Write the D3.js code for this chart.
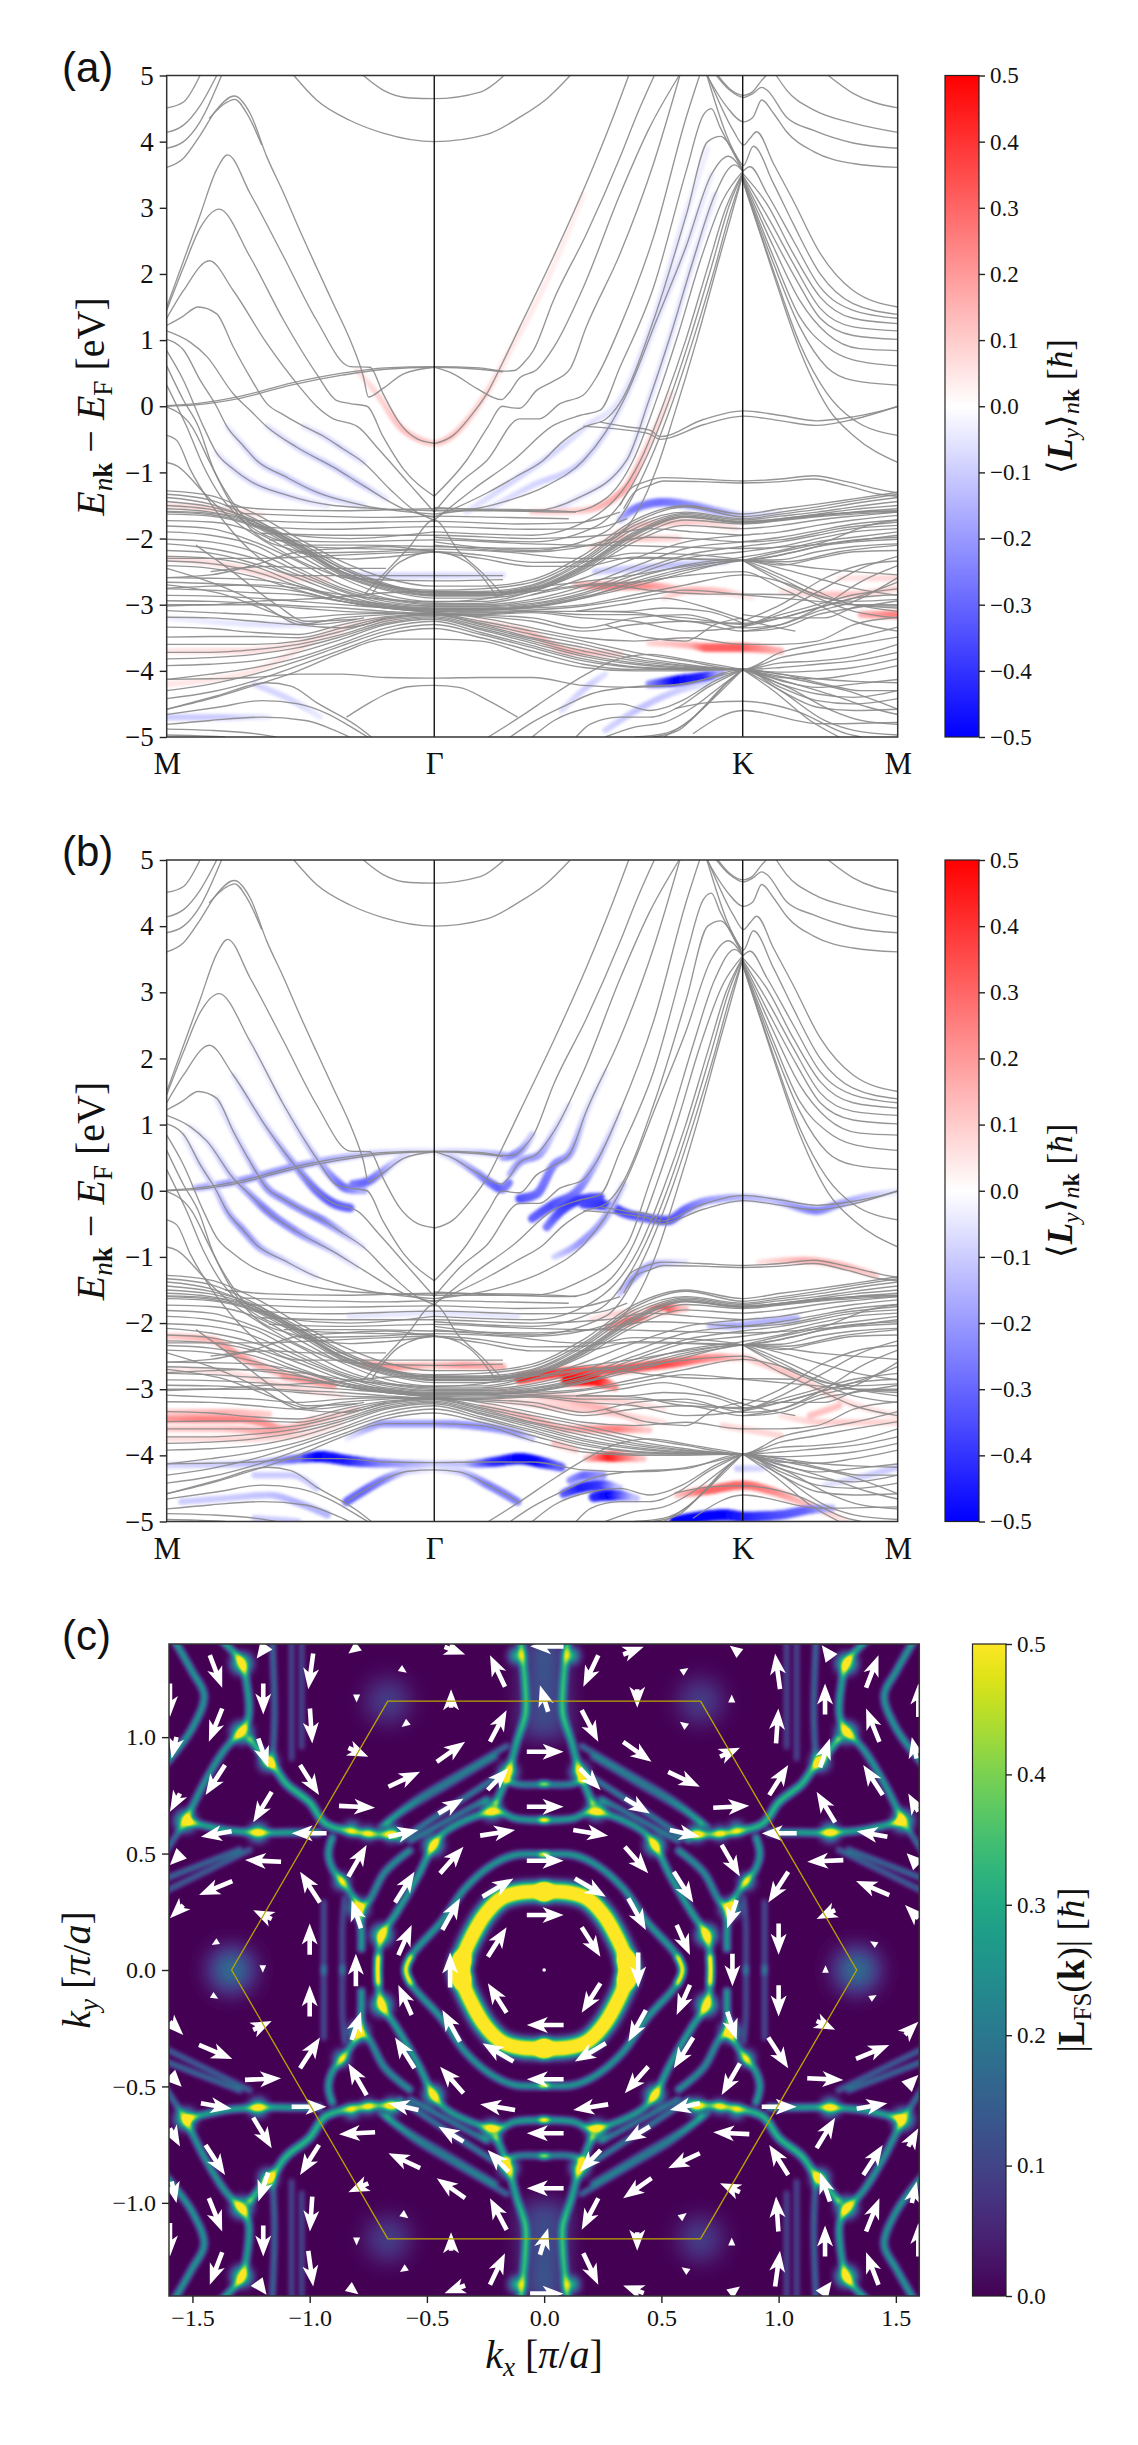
<!DOCTYPE html>
<html>
<head>
<meta charset="utf-8">
<script src="https://cdn.jsdelivr.net/npm/d3@7"></script>
<style>
  body { margin: 0; background: #fff; }
  text { font-family: "Liberation Serif", serif; fill: #111; }
</style>
</head>
<body>
<svg id="fig" width="1138" height="2445"></svg>
<script>
// k runs along the path as a percentage: M=0, Gamma=36.6, K=78.8, M=100
const pathTicks = [0, 36.6, 78.8, 100];
const pathLabels = ["M", "Γ", "K", "M"];
const energyTicks = [-5, -4, -3, -2, -1, 0, 1, 2, 3, 4, 5];
const colorTicks = [-0.5, -0.4, -0.3, -0.2, -0.1, 0, 0.1, 0.2, 0.3, 0.4, 0.5];
const kxTicks = [-1.5, -1, -0.5, 0, 0.5, 1, 1.5];
const kyTicks = [-1, -0.5, 0, 0.5, 1];
const magTicks = [0, 0.1, 0.2, 0.3, 0.4, 0.5];

// bands above the dense manifold, [k, E] pairs
const upperBands = [
  [[26.9,5],[29.6,4.78],[33.3,4.66],[36.6,4.65],[42.9,4.75],[46.05,4.99]],
  [[17.4,5],[20.5,4.63],[25.1,4.32],[29.6,4.13],[36.6,4],[43.8,4.11],[48.3,4.37],[52,4.65],[55.2,5]],
  [[0,4.51],[2.3,4.6],[4.56,5]],
  [[0,4.14],[2.3,4.25],[4.6,4.55],[6.84,5]],
  [[0,3.9],[2.3,4],[4.56,4.3],[7.5,5]],
  [[0,3.61],[2.3,3.75],[4.6,4.1],[6.8,4.48],[9.26,4.69],[11.4,4.43],[13.7,3.77],[16,3.22],[18.2,2.66],[20.5,2.1],[22.8,1.55],[25.1,1],[26.9,.45],[27.6,.14],[29.6,.27],[32.4,.49],[36.6,.59]],
  [[5.8,4.35],[8,4.58],[9.3,4.64],[11,4.42],[13,3.95]],
  [[0,1.5],[2.3,2.2],[4.6,2.9],[6.8,3.57],[8.34,3.8],[11.4,3.22],[16,2.26],[20.5,1.3],[25.1,.6],[27.8,.59],[29.6,.19],[31.9,-.26],[34.2,-.49],[36.6,-.56]],
  [[0,1.45],[2.3,2.1],[4.6,2.7],[7.16,2.98],[11.4,2.26],[16,1.3],[20.5,.49],[23.2,.09],[25.1,.04],[27.4,0],[29.6,-.46],[32.4,-.95],[36.6,-1.36]],
  [[0,1.33],[2.3,1.75],[5.84,2.2],[9.1,1.75],[13.7,.95],[18.2,.29],[20.5,0],[22.8,-.19],[25.1,-.26],[26,-.3],[29,-.65],[33,-1.15],[36.6,-1.6]],
  [[0,1.22],[2.1,1.35],[4.3,1.5],[6.8,1.4],[9.1,.9],[11.4,.44],[13.7,.04],[16,-.13],[18.7,-.3],[21.4,-.45],[24.2,-.65],[26.9,-.85],[30.5,-1.25],[34.2,-1.6],[36.6,-1.72]],
  [[0,1.14],[3.2,.97],[5.5,.75],[9.1,.19],[11.4,-.06],[13.7,-.31],[17.8,-.62],[22.8,-.92],[26.9,-1.2],[32.4,-1.55],[36.6,-1.68]],
  [[0,1.01],[2.3,.85],[4.6,.39],[6.8,0],[8.2,-.3],[10.5,-.6],[12.3,-.82],[16,-1.05],[20.5,-1.3],[26.9,-1.5],[36.6,-1.63]],
  [[0,.84],[2.3,.39],[5,-.3],[6.8,-.7],[9.1,-.95],[11.4,-1.13],[16,-1.33],[22.8,-1.5],[36.6,-1.58]],
  [[0,.61],[2.3,.09],[4.3,-.3],[6.4,-.95],[8.7,-1.4],[11.4,-1.76],[16,-1.93],[25,-2],[36.6,-1.9]],
  [[0,.32],[2.7,-.3],[5,-.9],[7.3,-1.35],[9.6,-1.65],[13.7,-1.96],[20.5,-2.13],[29.6,-2.16],[36.6,-2.18]],
  [[0,-.01],[3.4,-.3],[5.9,-.85],[8.7,-1.45],[11.9,-1.9],[16.9,-2.16],[25,-2.31],[30,-2.28],[36.6,-2.2]],
  [[0,-.44],[1.4,-.52],[3.2,-.95],[5.9,-1.45],[8.7,-1.86],[12.3,-2.26],[18.2,-2.56],[25,-2.56],[36.6,-2.56],[46,-2.56]],
  [[0,-.85],[1.4,-.9],[4.6,-1.25],[6.8,-1.5],[9.6,-1.76],[13.7,-2.06],[19.6,-2.41],[25,-2.6],[36.6,-2.64],[46,-2.62]],
  // flat band from M through Gamma, doubled
  [[0,.01],[4,.04],[10,.15],[17,.35],[24,.5],[29.9,.58],[36.6,.6],[42.8,.58],[46.2,.53],[47.6,.54],[48.8,.65],[50.2,.85],[52.9,1.6],[57.4,2.6],[62,3.76],[64.3,4.4],[66.7,5]],
  [[0,0],[4,.02],[10,.12],[17,.32],[24,.47],[29.9,.56],[36.6,.59],[42.8,.56],[46,.52]],
  // steep bands climbing to K
  [[36.6,-.565],[39.2,-.44],[41.5,-.16],[43.8,.19],[46,.67],[48.3,1.2],[52.9,2.26],[57.4,3.37],[61.1,4.38],[63.2,5]],
  [[36.6,.59],[39.2,.49],[42.4,.27],[45.8,.1],[46.8,.2],[48.3,.43],[50.6,.55],[53,.9],[57,1.8],[62,3.2],[66,4.2],[70.1,5]],
  [[36.6,-1.36],[41,-.82],[44,-.3],[45.9,0],[47,-.02],[48.3,-.03],[50.6,.24],[52.9,.38],[55.2,.57],[57.4,1.2],[62,2.3],[66.6,3.67],[70.2,5]],
  [[36.6,-1.6],[40.2,-1.15],[43.8,-.82],[48.3,-.19],[51,-.19],[53.8,.04],[57,.17],[58.8,.44],[62,1.2],[66.6,2.56],[71.1,4.38],[72.9,5]],
  [[36.6,-1.72],[42,-1.25],[47.4,-.82],[52.9,-.29],[56.5,-.14],[59.3,-.06],[62,.59],[66.6,1.8],[71.1,3.57],[73.4,4.4],[74.5,4.5],[75.7,4.22],[78.8,3.57]],
  [[36.6,-1.68],[44,-1.3],[48,-1.05],[51.5,-.82],[54,-.55],[57.4,-.3],[60,-.2],[62,.05],[66.6,1.3],[71.1,2.9],[74,4],[75.8,4.08],[77,3.95],[78.8,3.57]],
  [[36.6,-1.63],[46,-1.45],[52,-1.2],[57,-.82],[60,-.4],[63,.2],[67,1.3],[71,2.4],[74.5,3.5],[76.8,3.78],[78.8,3.55]],
  [[36.6,-1.58],[50,-1.58],[56,-1.4],[62.9,-.82],[66,.1],[69,1.1],[72,2.2],[75,3.2],[77.7,3.65],[78.8,3.55]],
  [[36.6,-1.53],[55,-1.6],[60,-1.4],[63.8,-.82],[67,.1],[70,1.1],[73,2.2],[76,3.1],[78.8,3.55]],
  [[36.6,-1.9],[50,-1.95],[58,-1.7],[64.8,-.82],[68,.05],[71,1],[74,2.1],[76.5,3],[78.8,3.53]],
  [[36.6,-1.98],[50,-2.05],[59,-1.8],[65.4,-.82],[68.6,.05],[71.5,1],[74.5,2.1],[77,3.05],[78.8,3.52]],
  [[36.6,-2.05],[50,-2.18],[60,-1.9],[66.1,-.82],[69,0],[72,1],[75,2.1],[77,2.9],[78.8,3.5]],
  [[36.6,-2.1],[50,-2.2],[61,-2],[67,-.95],[69.5,-.1],[72.5,1],[75.5,2.2],[78.8,3.5]],
  // around K and down to the second M
  [[75.2,5],[77,4.78],[78.9,4.67],[80.2,4.73],[81.4,4.82],[82.1,4.78],[84.8,4.37],[88.5,4.17],[93.9,3.98],[100,3.9]],
  [[75.4,5],[77,4.8],[78.9,4.7],[80.2,4.76],[81.2,4.9],[82,5]],
  [[73.9,5],[76.6,4.53],[78.9,4.3],[80.2,4.37],[81.4,4.63],[83,4.43],[84.8,4.15],[88.5,3.85],[93.9,3.67],[100,3.61]],
  [[74,5],[77.5,4.17],[78.9,3.95],[79.8,4.05],[80.7,4.15],[83,3.67],[85.7,3.11],[89.4,2.31],[93.9,1.75],[100,1.5]],
  [[73.9,5],[78,3.77],[78.9,3.64],[80.25,3.93],[83,3.37],[85.7,2.76],[89.4,2],[93.9,1.55],[100,1.39]],
  [[78.8,3.55],[79.8,3.62],[82.1,3.22],[85.7,2.51],[89.4,1.8],[93.9,1.45],[100,1.33]],
  [[78.8,3.52],[82.1,3.06],[85.7,2.31],[89.4,1.65],[93.9,1.33],[100,1.25]],
  [[78.8,3.49],[82.5,2.81],[85.7,2.16],[89.4,1.48],[93.9,1.2],[100,1.14]],
  [[78.8,3.47],[82.5,2.66],[86.2,1.9],[89.4,1.33],[93.9,1.07],[100,1.01]],
  [[78.8,3.45],[83,2.41],[86.6,1.6],[90.3,1.1],[94.8,.87],[100,.84]],
  [[78.8,3.44],[83,2.26],[86.6,1.35],[90.3,.9],[93.9,.7],[100,.61]],
  [[78.8,3.43],[83,2.16],[86.6,1.2],[90.3,.59],[93.9,.39],[100,.32]],
  [[78.8,3.42],[83,2.05],[86.6,.95],[90.3,.2],[93.9,-.2],[100,-.44]],
  [[78.8,3.41],[83,2],[86.6,.85],[90.6,-.05],[94,-.45],[100,-.85]],
  [[90.5,5],[93.9,4.73],[100,4.51]],
  [[83.4,5],[84.8,4.78],[88.5,4.48],[93.9,4.28],[100,4.14]],
  // shallow doublets between K and M
  [[59.3,-.24],[62.9,-.31],[66.1,-.36],[67.5,-.46],[73.4,-.2],[78.9,-.07],[84,-.14],[88.9,-.22],[93.9,-.16],[100,-.01]],
  [[57,-.3],[62.9,-.36],[66.1,-.42],[67.5,-.5],[73.4,-.28],[78.9,-.15],[84,-.22],[88.9,-.29],[93.9,-.2],[100,0]],
  [[62,-1.5],[63.4,-1.25],[65.5,-1.14],[67.9,-1.08],[73,-1.1],[78.8,-1.13],[84,-1.1],[88.5,-1.05],[93,-1.14],[97.6,-1.26],[100,-1.31]],
  [[62.5,-1.55],[64,-1.3],[66,-1.2],[68,-1.13],[73,-1.14],[78.8,-1.16],[84,-1.14],[88.5,-1.1],[93,-1.2],[97.6,-1.33],[100,-1.36]],
  // bands at the bottom of the window
  [[24.6,-4.7],[27.5,-4.5],[30,-4.35],[33,-4.24],[36.6,-4.22],[40,-4.25],[44,-4.45],[48,-4.7]],
  [[0,-4.58],[6.8,-4.38],[13.7,-4.18],[17,-4.23],[20.5,-4.48],[26,-4.83],[28,-5]],
  [[0,-4.66],[7,-4.55],[13,-4.45],[18,-4.5],[22,-4.65],[26,-4.9],[27.5,-5]],
  [[0,-4.81],[6,-4.75],[13,-4.7],[19,-4.75],[23,-4.9],[25,-5]],
  [[0,-4.88],[6,-4.9],[12,-4.95],[15,-5]],
  [[0,-4.97],[4,-4.98],[8,-5]],
  [[44,-5],[48.3,-4.7],[53,-4.35],[57.4,-4.05],[61,-3.85],[66,-3.75],[72,-3.85],[78.8,-3.98]],
  [[47,-5],[50,-4.78],[55,-4.5],[58,-4.35],[63,-4.25],[70,-4.2],[78.8,-3.98]],
  [[50,-5],[53,-4.75],[58,-4.55],[62,-4.5],[66,-4.6],[70.5,-4.45],[75,-4.15],[78.8,-3.98]],
  [[56,-5],[58,-4.8],[62,-4.7],[66,-4.7],[70,-4.55],[74,-4.25],[78.8,-3.98]],
  [[60,-5],[64,-4.85],[68,-4.78],[72,-4.55],[75,-4.3],[78.8,-3.98]],
  [[64,-5],[68,-4.95],[71,-4.8],[74,-4.5],[76.5,-4.2],[78.8,-3.98]],
  [[66.5,-5],[70,-4.9],[73,-4.6],[75.5,-4.3],[78.8,-3.98]],
  [[68,-5],[71.5,-4.75],[74.5,-4.45],[78.8,-3.98]],
  [[69.5,-4.57],[74,-4.48],[78.9,-4.46],[86.4,-4.62],[93,-4.95],[95,-5]],
  [[72,-4.95],[78.9,-4.6],[89.4,-4.8],[100,-4.78]],
  [[78.8,-3.98],[84,-4.3],[90,-4.75],[94,-4.9],[100,-4.97]],
  [[78.8,-3.98],[83,-4.3],[88,-4.75],[92,-5]],
  [[78.8,-3.98],[85,-4.25],[91,-4.6],[95,-4.75],[100,-4.81]],
  [[78.8,-3.98],[86,-4.2],[92,-4.4],[96,-4.55],[100,-4.66]],
  [[78.8,-3.98],[87,-4.15],[93,-4.3],[100,-4.58]],
  [[78.8,-3.98],[84,-4.05],[90,-4.2],[95,-4.3],[100,-4.3]],
  // the X and the arch just under Gamma
  [[27,-2.85],[30,-2.5],[33,-2.15],[36.6,-1.72],[40,-2.2],[43,-2.5],[46,-2.85]],
  [[28,-2.85],[32,-2.35],[36.6,-2.2],[41,-2.35],[45,-2.85]],
  // flat lines either side of Gamma
  [[8,-1.5],[14,-1.56],[24,-1.58],[36.6,-1.55],[48,-1.56],[56,-1.6]],
  [[10,-1.62],[20,-1.66],[30,-1.68],[36.6,-1.66],[46,-1.68],[55,-1.7]],
  [[11,-1.72],[22,-1.76],[36.6,-1.74],[48,-1.78],[56,-1.76],[62,-1.6]],
  [[12,-1.82],[22,-1.86],[36.6,-1.82],[50,-1.86],[58,-1.85],[63,-1.7]],
  [[13,-1.92],[24,-1.95],[36.6,-1.95],[50,-2],[60,-1.95],[66,-1.85],[72,-1.9],[78.8,-1.95]],
  [[14,-2.02],[24,-2.05],[36.6,-2.02],[50,-2.08],[58,-2.1],[66,-1.98],[72,-2],[78.8,-2.05],[84,-2.02],[92,-1.85],[100,-1.75]],
  [[16,-2.1],[26,-2.1],[36.6,-2.12],[50,-2.15],[60,-2.1],[68,-2.12],[78.8,-2.15],[88,-2.1],[100,-1.95]],
  [[18,-2.22],[28,-2.2],[36.6,-2.16],[46,-2.2],[56,-2.3],[66,-2.3],[78.8,-2.33],[86,-2.2],[92,-2.05],[100,-1.98]],
  [[6,-2.5],[14,-2.42],[20,-2.45],[30,-2.45]],
  // crossings between K and the second M
  [[78.8,-2.33],[84,-2.2],[90,-2.05],[96,-1.8],[100,-1.72]],
  [[78.8,-2.33],[85,-2.35],[92,-2.2],[100,-2.1]],
  [[78.8,-2.33],[84,-2.6],[90,-2.9],[94,-2.95],[100,-2.92]],
  [[78.8,-2.33],[84,-2.65],[88,-2.85],[94,-3.1],[100,-3.2]],
  [[78.8,-3.34],[84,-3.1],[90,-2.75],[95,-2.45],[100,-2.27]],
  [[78.8,-3.25],[84,-3],[90,-2.6],[95,-2.4],[100,-2.34]],
  [[78.8,-3.4],[84,-3.3],[90,-3],[95,-2.65],[100,-2.41]],
  [[78.8,-3.15],[84,-3.2],[90,-3.2],[95,-3.02],[100,-3.02]],
  // crossings near the first M
  [[0,-2.7],[8,-2.85],[14,-3.1],[20,-3.3],[27,-3.2]],
  [[0,-2.45],[7,-2.7],[13,-3],[18,-3.3],[24,-3.35],[30,-3.2]],
  [[4,-2.1],[9,-2.5],[15,-3],[19,-3.25],[26,-3.22]],
  // humps left of K
  [[56,-3.1],[62,-3],[68,-2.9],[74,-3.05],[78.8,-3.22],[86,-3.4]],
  [[56,-3.1],[63,-3.1],[68,-3.05],[74,-3.1],[78.8,-3.28]],
  [[60,-3.3],[66,-3.5],[71,-3.55],[75,-3.3],[78.8,-3.2]],
  [[50,-2.85],[60,-2.7],[66,-2.78],[74,-2.84],[78.8,-2.84],[86,-2.85]]
];

// dense manifold, energies sampled at kGrid
const kGrid = [0, 6, 12, 18, 24, 30, 36.6, 43, 50, 57, 64, 71, 78.8, 84, 89, 94, 100];
const denseBands = [
  [-1.28,-1.35,-1.62,-2,-2.35,-2.6,-2.72,-2.72,-2.62,-2.25,-1.72,-1.5,-1.63,-1.55,-1.48,-1.4,-1.3],
  [-1.33,-1.42,-1.7,-2.1,-2.45,-2.7,-2.78,-2.76,-2.66,-2.3,-1.76,-1.52,-1.67,-1.6,-1.52,-1.43,-1.33],
  [-1.38,-1.48,-1.75,-2.15,-2.5,-2.72,-2.8,-2.8,-2.7,-2.33,-1.8,-1.6,-1.7,-1.63,-1.56,-1.47,-1.38],
  [-1.44,-1.52,-1.72,-2.05,-2.42,-2.68,-2.82,-2.82,-2.72,-2.36,-1.85,-1.62,-1.72,-1.66,-1.6,-1.52,-1.44],
  [-1.5,-1.56,-1.75,-2.08,-2.46,-2.7,-2.83,-2.83,-2.74,-2.4,-1.9,-1.64,-1.74,-1.7,-1.63,-1.56,-1.5],
  [-1.55,-1.6,-1.75,-2.1,-2.5,-2.72,-2.85,-2.85,-2.76,-2.42,-1.92,-1.66,-1.76,-1.72,-1.66,-1.6,-1.55],
  [-1.59,-1.62,-1.78,-2.12,-2.52,-2.74,-2.86,-2.86,-2.76,-2.43,-1.94,-1.67,-1.75,-1.7,-1.64,-1.6,-1.58],
  [-1.6,-1.64,-1.8,-2.14,-2.54,-2.76,-2.87,-2.87,-2.78,-2.45,-1.96,-1.68,-1.76,-1.71,-1.65,-1.61,-1.59],
  [-1.63,-1.66,-1.82,-2.18,-2.56,-2.78,-2.9,-2.9,-2.8,-2.47,-2,-1.72,-1.78,-1.73,-1.67,-1.63,-1.6],
  [-1.73,-1.75,-1.9,-2.25,-2.6,-2.85,-2.95,-2.95,-2.8,-2.5,-2.05,-1.8,-1.85,-1.8,-1.72,-1.66,-1.6],
  [-1.81,-1.85,-2.05,-2.35,-2.7,-2.9,-2.98,-2.98,-2.85,-2.6,-2.3,-2.05,-1.95,-1.9,-1.8,-1.72,-1.65],
  [-1.9,-1.95,-2.1,-2.45,-2.75,-2.92,-3,-3,-2.92,-2.72,-2.42,-2.15,-2.05,-1.98,-1.88,-1.78,-1.72],
  [-2.01,-2.05,-2.2,-2.5,-2.78,-2.95,-3.02,-3.02,-2.95,-2.78,-2.5,-2.25,-2.12,-2.05,-1.95,-1.85,-1.8],
  [-2.08,-2.15,-2.3,-2.55,-2.8,-2.98,-3.03,-3.03,-2.98,-2.82,-2.55,-2.3,-2.2,-2.12,-2,-1.9,-1.85],
  [-2.18,-2.22,-2.38,-2.6,-2.85,-3,-3.05,-3.05,-3,-2.85,-2.6,-2.4,-2.28,-2.18,-2.05,-1.98,-1.9],
  [-2.27,-2.3,-2.42,-2.68,-2.9,-3.02,-3.06,-3.06,-3.02,-2.88,-2.68,-2.48,-2.33,-2.25,-2.12,-2.05,-2.01],
  [-2.34,-2.38,-2.5,-2.72,-2.92,-3.03,-3.07,-3.07,-3.03,-2.9,-2.72,-2.52,-2.33,-2.32,-2.2,-2.12,-2.08],
  [-2.41,-2.45,-2.58,-2.78,-2.95,-3.04,-3.08,-3.08,-3.04,-2.9,-2.65,-2.45,-2.33,-2.4,-2.3,-2.2,-2.18],
  [-2.3,-2.3,-2.3,-2.28,-2.25,-2.22,-2.2,-2.25,-2.36,-2.35,-2.22,-2.24,-2.33,-2.55,-2.8,-3,-3.05],
  [-2.59,-2.55,-2.4,-2.2,-2.15,-2.12,-2.2,-2.3,-2.42,-2.42,-2.28,-2.3,-2.33,-2.45,-2.6,-2.75,-2.86],
  [-3,-3,-2.95,-2.92,-2.88,-2.82,-2.8,-2.82,-2.8,-2.7,-2.66,-2.56,-2.5,-2.75,-3,-3.25,-3.4],
  [-2.75,-2.72,-2.7,-2.75,-2.85,-2.92,-2.96,-2.92,-2.75,-2.65,-2.55,-2.42,-2.33,-2.38,-2.45,-2.5,-2.55],
  [-2.59,-2.6,-2.62,-2.72,-2.9,-3,-3.08,-3.08,-3.05,-3,-2.85,-2.7,-2.55,-2.65,-2.85,-3,-3.1],
  [-2.66,-2.68,-2.72,-2.8,-2.95,-3.05,-3.1,-3.1,-3.08,-3.02,-2.9,-2.78,-2.85,-2.9,-2.95,-3,-3],
  [-2.76,-2.78,-2.82,-2.85,-2.95,-3.05,-3.1,-3.12,-3.1,-3.1,-3.12,-3.25,-3.28,-3.2,-3.05,-2.9,-2.85],
  [-2.86,-2.87,-2.9,-2.95,-3,-3.05,-3.12,-3.14,-3.1,-3.15,-3.15,-3.2,-3.3,-3.15,-3,-2.85,-2.76],
  [-2.94,-2.95,-2.98,-3.02,-3.05,-3.1,-3.14,-3.15,-3.12,-3.2,-3.25,-3.4,-3.33,-3.2,-3.05,-2.9,-2.66],
  [-3.02,-3,-3,-3.05,-3.1,-3.12,-3.15,-3.16,-3.2,-3.35,-3.2,-3.15,-3.35,-3.3,-3.1,-2.95,-2.59],
  [-3.09,-3.12,-3.15,-3.2,-3.15,-3.13,-3.14,-3.18,-3.25,-3.4,-3.3,-3.25,-3.4,-3.35,-3.15,-3.05,-2.94],
  [-3.19,-3.2,-3.25,-3.3,-3.2,-3.15,-3.12,-3.2,-3.35,-3.5,-3.55,-3.5,-3.6,-3.6,-3.55,-3.3,-3.19],
  [-3.34,-3.36,-3.42,-3.45,-3.3,-3.18,-3.14,-3.25,-3.4,-3.55,-3.72,-3.85,-3.98,-3.72,-3.6,-3.5,-3.34],
  [-3.49,-3.48,-3.48,-3.5,-3.35,-3.2,-3.15,-3.28,-3.45,-3.6,-3.78,-3.9,-3.98,-3.8,-3.7,-3.6,-3.49],
  [-3.6,-3.6,-3.6,-3.55,-3.4,-3.22,-3.16,-3.3,-3.5,-3.65,-3.82,-3.92,-3.98,-3.88,-3.85,-3.78,-3.6],
  [-3.72,-3.72,-3.68,-3.6,-3.45,-3.25,-3.18,-3.33,-3.52,-3.7,-3.85,-3.93,-3.98,-3.95,-3.9,-3.85,-3.72],
  [-3.82,-3.8,-3.75,-3.65,-3.48,-3.28,-3.2,-3.36,-3.55,-3.75,-3.88,-3.95,-3.98,-4.02,-4,-3.95,-3.82],
  [-3.92,-3.9,-3.85,-3.72,-3.52,-3.3,-3.22,-3.38,-3.58,-3.78,-3.9,-3.96,-3.98,-4.1,-4.12,-4.05,-3.92],
  [-4.13,-4.05,-3.95,-3.8,-3.58,-3.35,-3.25,-3.42,-3.62,-3.82,-3.94,-3.97,-3.98,-4.15,-4.25,-4.2,-4.13],
  [-4.3,-4.2,-4.05,-3.85,-3.62,-3.4,-3.3,-3.45,-3.65,-3.85,-3.95,-3.98,-3.98,-4.2,-4.35,-4.4,-4.3],
  [-4.42,-4.32,-4.15,-3.92,-3.68,-3.45,-3.36,-3.5,-3.7,-3.9,-3.98,-3.98,-3.98,-4.25,-4.45,-4.5,-4.42],
  [-4.58,-4.42,-4.22,-4,-3.72,-3.52,-3.52,-3.55,-3.78,-3.95,-4,-4,-3.98,-4.3,-4.55,-4.6,-4.58],
  [-4.13,-4.12,-4.1,-4.05,-4.05,-4.1,-4.11,-4.1,-4.1,-4.22,-4.25,-4.2,-3.98,-4.05,-4.12,-4.16,-4.18]
];

// orbital weight along parts of the bands, [k, E, Ly]
const weightA = [
  [[26,.55,.05],[29,.15,.08],[32,-.32,.12],[34.5,-.5,.12],[36.6,-.56,.1],[39,-.45,.12],[41.5,-.16,.1],[44,.25,.08],[47,.85,.05],[52,1.9,.04],[57,3.2,.03]],
  [[13.7,-.3,-.05],[17.8,-.62,-.08],[22.8,-.92,-.1],[26.9,-1.2,-.1],[30,-1.4,-.05]],
  [[18.7,-.3,-.05],[21.4,-.45,-.07],[24.2,-.65,-.08],[26.9,-.85,-.06]],
  [[8.2,-.3,-.04],[10.5,-.6,-.07],[12.3,-.82,-.08],[16,-1.05,-.1],[20.5,-1.3,-.1],[26.9,-1.5,-.06]],
  [[6.8,-.7,-.04],[9.1,-.95,-.07],[11.4,-1.13,-.08],[16,-1.33,-.08],[22,-1.5,-.05]],
  [[41,-1.6,-.05],[46.7,-1.18,-.08],[53.7,-.64,-.08],[57.4,-.3,-.06],[62,.1,-.05],[66.6,1.3,-.06],[71,2.9,-.05],[74,3.9,-.03]],
  [[44,-1.55,-.05],[50,-1.2,-.08],[57,-.82,-.1],[60,-.4,-.08],[63,.2,-.06],[67,1.3,-.06],[71,2.4,-.06],[74.5,3.5,-.04]],
  [[52,-1.6,-.05],[56,-1.4,-.06],[62.9,-.82,-.06],[66,.1,-.06],[69,1.1,-.06],[72,2.2,-.06],[75,3.2,-.05]],
  [[50,-1.6,.08],[56.6,-1.58,.1],[62.6,-1.26,.18],[65.6,-.64,.1],[69,.2,.05]],
  [[62,-1.72,-.12],[64,-1.55,-.25],[68,-1.45,-.28],[72,-1.5,-.22],[76,-1.6,-.18],[79,-1.65,-.1],[84,-1.62,-.04]],
  [[61,-1.95,.08],[66,-1.78,.12],[72,-1.75,.1],[78,-1.85,.05]],
  [[58,-2.15,.05],[62,-2,.12],[70,-2,.08]],
  [[0,-1.5,.06],[6,-1.55,.08],[13,-1.65,.05]],
  [[0,-2.3,.05],[8,-2.4,.07],[14,-2.55,.08],[22,-2.62,.06]],
  [[56,-2.7,.12],[60,-2.72,.25],[66,-2.72,.22],[72,-2.8,.06]],
  [[68,-2.9,.05],[72,-2.78,.15],[76,-2.8,.12],[80,-2.9,.04]],
  [[25,-2.55,-.08],[36.6,-2.56,-.08],[46,-2.55,-.06]],
  [[66,-3.58,.08],[72,-3.62,.15],[74,-3.65,.3],[78.8,-3.65,.32],[84,-3.7,.15]],
  [[42,-3.25,.05],[50,-3.45,.12],[55,-3.7,.15],[62,-3.75,.08]],
  [[66,-4.2,-.2],[70,-4.15,-.5],[74,-4.08,-.42],[76,-4.03,-.15]],
  [[54,-4.6,-.06],[58,-4.2,-.1],[60,-4.05,-.06]],
  [[60,-4.9,-.08],[65,-4.55,-.12],[70,-4.3,-.1],[74,-4.2,-.06]],
  [[0,-4.7,-.1],[8,-4.7,-.1],[14,-4.7,-.04]],
  [[12,-4.2,-.08],[18,-4.5,-.08],[21,-4.7,-.04]],
  [[0,-3.7,.05],[10,-3.7,.07],[24,-3.4,.05]],
  [[0,-4.2,.05],[12,-4,.05],[24,-3.35,.06],[32,-3.2,.04]],
  [[0,-3.2,-.03],[15,-3.3,-.06],[20,-3.3,-.05]],
  [[58.6,-2.5,-.1],[70,-2.4,-.12],[76.5,-2.35,-.08]],
  [[95,-3.15,.15],[100,-3.15,.25]],
  [[84,-2.8,.05],[92,-2.85,.12],[100,-2.75,.08]],
  [[92,-2.6,.05],[100,-2.6,.08]]
];
const weightB = [
  [[4,.04,-.15],[10,.15,-.2],[17,.35,-.2],[24,.5,-.15],[29.9,.58,-.08],[36.6,.6,-.05],[42.8,.58,-.1],[46.2,.54,-.15]],
  [[11.4,2.26,-.03],[16,1.3,-.05],[20.5,.49,-.12],[22.8,.19,-.22],[24.5,.04,-.3],[27,0,-.15]],
  [[9.1,1.75,-.05],[13.7,.95,-.1],[18.2,.29,-.2],[20.5,0,-.28],[22.8,-.19,-.32],[25.1,-.26,-.3]],
  [[6.8,1.4,-.05],[9.1,.9,-.08],[11.4,.44,-.12],[13.7,.04,-.2],[16,-.13,-.22],[18.7,-.3,-.22],[21.4,-.45,-.25],[24.2,-.65,-.15],[26.9,-.85,-.05]],
  [[3.2,.97,-.04],[5.5,.75,-.06],[9.1,.19,-.12],[11.4,-.06,-.18],[13.7,-.3,-.25],[17.8,-.62,-.22],[22.8,-.92,-.1],[26,-1.15,-.05]],
  [[2.3,.85,-.04],[4.6,.39,-.08],[6.8,0,-.1],[8.2,-.3,-.15],[10.5,-.6,-.2],[12.3,-.82,-.18],[16,-1.05,-.1],[20.5,-1.3,-.05]],
  [[25.5,.1,-.25],[27.5,.14,-.3],[29,.25,-.25],[31,.42,-.12],[33,.55,-.06]],
  [[36.6,.59,-.03],[39.2,.49,-.1],[42.4,.27,-.2],[44.5,.1,-.28],[45.8,.03,-.32],[46.8,.12,-.25]],
  [[46,.5,-.15],[47.6,.55,-.25],[48.8,.65,-.2],[50,.85,-.1]],
  [[47,.25,-.15],[48.3,.43,-.2],[51,.55,-.2],[53,.9,-.1],[55,1.3,-.05]],
  [[48.3,-.12,-.35],[50.6,-.05,-.3],[52.9,.38,-.25],[55.2,.57,-.2],[57.4,1.2,-.08],[60,1.8,-.04]],
  [[50,-.42,-.3],[53,-.2,-.35],[56,-.02,-.28],[58.8,.44,-.15],[62,1.2,-.05]],
  [[52,-.55,-.25],[54,-.3,-.35],[56.5,-.14,-.4],[59.3,-.1,-.35]],
  [[57,-.2,-.35],[60,-.22,-.4],[63,-.35,-.35],[66,-.42,-.3],[68.5,-.45,-.35],[71,-.28,-.3],[74,-.15,-.2],[78.8,-.1,-.15],[83,-.15,-.12],[88.9,-.3,-.25],[92,-.2,-.2],[96,-.08,-.12],[100,-.01,-.05]],
  [[53,-1,-.08],[57,-.75,-.2],[60,-.4,-.18],[62.5,.1,-.1]],
  [[62,-1.55,-.1],[64,-1.3,-.2],[67,-1.1,-.15],[71,-1.08,-.05]],
  [[81,-1.08,.05],[87,-1.05,.15],[92,-1.12,.15],[97,-1.28,.1]],
  [[60.2,-2.08,.15],[63.4,-1.96,.3],[68.4,-1.78,.4],[71,-1.78,.1]],
  [[58,-1.95,.05],[63,-1.85,.1],[68,-1.85,.08]],
  [[74.3,-2.04,-.12],[78,-2.04,-.18],[80.3,-2,-.15],[86.2,-1.93,-.15]],
  [[48.3,-2.84,.45],[53,-2.76,.4],[60.6,-2.71,.35],[68.8,-2.61,.35],[76,-2.52,.2],[78.8,-2.52,.1],[81,-2.6,.1],[85,-2.76,.12],[88,-2.92,.1],[92,-3.15,.08],[100,-3.4,.05]],
  [[54.7,-2.87,.5],[57.5,-2.86,.5],[59.7,-2.9,.45],[61.3,-2.97,.2]],
  [[27,-2.62,.2],[32,-2.66,.2],[36.6,-2.64,.12],[41,-2.64,.2],[46,-2.66,.15]],
  [[0,-2.2,.1],[6,-2.25,.15],[10,-2.5,.2],[14,-2.7,.15],[18,-2.85,.12],[20,-2.9,.08]],
  [[16,-2.8,.2],[22.8,-2.94,.2]],
  [[0,-3.45,.2],[5,-3.45,.25],[10,-3.45,.25],[13,-3.5,.22],[16,-3.6,.18],[20,-3.45,.1]],
  [[0,-3.6,.1],[8,-3.6,.12],[15,-3.65,.18],[20,-3.5,.12],[26,-3.3,.08]],
  [[0,-3.35,.1],[8,-3.35,.15],[14,-3.38,.1]],
  [[0,-3.75,.06],[10,-3.75,.08],[18,-3.7,.08],[24,-3.5,.05]],
  [[0,-2.7,.04],[8,-2.75,.06],[16,-2.95,.08],[24,-3.1,.05]],
  [[44,-3.0,.05],[52,-3.1,.1],[60,-3.15,.1],[68,-3.3,.05]],
  [[44,-3.15,.06],[52,-3.25,.1],[60,-3.35,.1],[68,-3.5,.06]],
  [[24.6,-3.75,-.03],[27.4,-3.6,-.15],[29.6,-3.52,-.2],[36.6,-3.52,-.2],[43.4,-3.57,-.22],[48.3,-3.68,-.2],[50,-3.75,-.1]],
  [[18.2,-4.05,-.3],[21,-4.02,-.5],[25,-4.08,-.45],[29.6,-4.12,-.25],[36.6,-4.13,-.1],[41,-4.13,-.12],[44.7,-4.1,-.4],[48.3,-4.05,-.5],[51,-4.1,-.5],[54,-4.18,-.3]],
  [[0,-4.15,-.08],[8,-4.14,-.1],[14,-4.1,-.15],[18,-4.05,-.3]],
  [[24.6,-4.7,-.3],[27.5,-4.5,-.3],[30,-4.35,-.25],[33,-4.24,-.1],[36.6,-4.22,-.03],[40,-4.25,-.1],[44,-4.45,-.25],[48,-4.7,-.25]],
  [[55.2,-4.38,-.2],[57.5,-4.3,-.3],[59.7,-4.3,-.2]],
  [[54.3,-4.58,-.3],[57,-4.48,-.45],[59.7,-4.45,-.4],[62,-4.5,-.1]],
  [[58.4,-4.63,-.4],[61,-4.6,-.5],[64.3,-4.65,-.1]],
  [[69.8,-4.6,.1],[73.9,-4.53,.3],[78.9,-4.45,.3],[82.5,-4.53,.25],[86.2,-4.68,.15],[90,-4.85,.1],[93,-5,.05]],
  [[69.5,-5,-.5],[76.5,-4.9,-.5],[78.8,-4.93,-.45],[84,-4.9,-.35],[88,-4.82,-.3],[91,-4.8,-.15]],
  [[57.4,-4.05,.1],[61,-4.02,.45],[65.2,-4.05,.1]],
  [[43,-3.25,.08],[50,-3.45,.15],[55,-3.6,.15],[62,-3.6,.25],[66,-3.62,.1]],
  [[50,-3.1,.1],[60,-3.3,.15],[65,-3.5,.08]],
  [[53,-3.82,.12],[56,-3.92,.1]],
  [[84,-3.4,.05],[90,-3.5,.1],[100,-3.5,.08]],
  [[88,-3.4,.12],[92,-3.25,.12]],
  [[76,-3.55,.08],[84,-3.7,.08]],
  [[78,-4.2,-.1],[81,-4.2,-.08],[84,-4.05,-.05]],
  [[90,-4.45,-.05],[96,-4.3,-.1],[100,-4.18,-.1]],
  [[25,-1.9,-.05],[36.6,-1.85,-.05],[48,-1.9,-.05]],
  [[2,-4.7,-.1],[8,-4.65,-.1],[14,-4.6,-.12],[18,-4.72,-.15],[22,-4.9,-.15]],
  [[12,-4.3,-.1],[17,-4.3,-.1],[20.5,-4.5,-.1]],
  [[12,-4.95,-.1],[18,-5,-.1]]
];

// Fermi-surface lines of the kx>0, ky>0 quadrant: [level, px width, points]
const fsLines = [
  [1.15, 14, [[-.02,.335],[.09,.335],[.18,.31],[.255,.235],[.31,.14],[.345,.06],[.36,0],[.345,-.06]]],
  [.35, 23, [[-.02,.335],[.09,.335],[.18,.31],[.255,.235],[.31,.14],[.345,.06],[.36,0],[.345,-.06]]],
  [.62, 5.5, [[-.02,.494],[.124,.494],[.223,.451],[.337,.351],[.437,.208],[.565,.064],[.59,0],[.565,-.064]]],
  [.66, 5.5, [[-.02,.644],[.124,.651],[.195,.68],[.28,.665],[.423,.594],[.472,.537],[.536,.408],[.636,.236],[.693,.15],[.707,.065],[.71,0],[.707,-.065]]],
  [.55, 5, [[-.02,.8],[.124,.8],[.18,.83]]],
  [.66, 6, [[.1,1.42],[.08,1.2],[.08,1.1],[.117,.98],[.152,.85],[.209,.708]]],
  [.16, 30, [[.03,1.42],[.04,1.2],[.05,1.0]]],
  [.46, 4, [[.152,.966],[.35,.85],[.55,.73],[.707,.608]]],
  [.42, 4, [[.2,.92],[.4,.8],[.6,.68],[.68,.62]]],
  [.54, 4, [[.238,.737],[.4,.65],[.579,.551]]],
  [.54, 4, [[.167,.851],[.4,.7],[.622,.551]]],
  [.72, 6.5, [[.62,.58],[.75,.585],[.85,.6],[.935,.63],[1,.72],[1.1,.8],[1.15,.87],[1.18,.9],[1.26,1]]],
  [.68, 5.5, [[.95,.59],[1.1,.59],[1.22,.59],[1.35,.6],[1.53,.64]]],
  [.6, 5.5, [[1.53,.64],[1.447,.808],[1.36,.95],[1.29,1.023]]],
  [.66, 5.5, [[1.29,1.02],[1.26,1.09],[1.27,1.24],[1.29,1.32],[1.38,1.42]]],
  [.6, 5.5, [[1.62,.88],[1.5,1.04],[1.45,1.18],[1.5,1.28],[1.58,1.42]]],
  [.64, 5.5, [[.9,.58],[.92,.5],[.9,.43],[.86,.38],[.79,.265],[.78,.17],[.78,.08]]],
  [.56, 5.5, [[.565,.52],[.68,.42],[.75,.293],[.79,.265]]],
  [.3, 4, [[.85,.32],[.86,.2],[.86,-.02]]],
  [.3, 4, [[.94,.3],[.94,-.02]]],
  [.28, 4, [[1.034,1.42],[1.034,.95]]],
  [.28, 4, [[1.077,1.42],[1.077,.9]]],
  [.44, 4, [[1.16,1.42],[1.15,1.1],[1.16,.88]]],
  [.44, 4, [[1.29,.52],[1.62,.39]]],
  [.4, 4, [[1.248,.52],[1.62,.336]]],
  [.48, 4, [[1.53,.64],[1.62,.5]]]
];
// bright knots on those lines: [kx, ky, px radius]
const fsKnots = [[.223,.687,11],[.472,.537,11],[.693,.15,12],[.152,.85,10],[.65,.587,9],[.75,.587,7],[.82,.608,7],[1.177,.894,10],[1.29,1.02,12],[1.29,1.316,12],[1.53,.64,12],[1.22,.59,10],[.864,.379,8],[.792,.265,11],[.117,1.35,8]];
// soft glow at the zone corners
const fsGlows = [[.667,1.155,20],[1.333,0,20]];

const zoneCorners = [[.667,1.155],[1.333,0],[.667,-1.155],[-.667,-1.155],[-1.333,0],[-.667,1.155],[.667,1.155]];

// arrows read in the kx>0, ky>0 quadrant: tail x, tail y, tip x, tip y
const quiverQuadrant = [
  [.231,1.352,.167,1.216],[.16,1.116,.231,.98],[.337,.98,.458,.894],[.529,.851,.664,.787],
  [.721,.697,.875,.705],[.344,.737,.451,.672],[.152,.866,.241,.773],[.124,.601,.273,.577],
  [.536,.601,.664,.572],[.344,.529,.444,.415],[.131,.393,.263,.315],[.359,.308,.434,.172],
  [.553,.422,.636,.29],[.757,.537,.835,.401],[1.041,.422,.956,.29],[.821,.3,.781,.179],
  [.16,.184,.24,.057],[.565,.193,.622,.064],[1.077,.587,.928,.587],[1.464,.572,1.333,.596],
  [1.276,.472,1.122,.465],[1.472,.322,1.33,.382],[1.596,.222,1.539,.279],[1.596,.451,1.546,.501],
  [1.444,.751,1.361,.88],[1.241,.634,1.162,.765],[.96,.751,1.041,.88],[1.177,.87,1.219,.994],
  [.989,.973,.999,1.123],[1.006,1.206,.985,1.359],[1.198,1.097,1.198,1.23],[1.373,1.212,1.426,1.352],
  [1.43,.98,1.373,1.123],[1.596,1.087,1.596,1.23],[1.589,.908,1.568,1.001],[1.596,.68,1.553,.758],
  [.397,1.206,.397,1.126],[.8,1.149,.8,1.183],[.586,1.277,.615,1.297],[.608,1.044,.579,1.066],
  [.75,.916,.835,.954],[1.241,.257,1.162,.219],[1.418,.107,1.39,.124],[.337,1.355,.425,1.388],
  [.835,1.359,.792,1.392],[1.226,1.338,1.184,1.395],[1,.2,1,.065]
];
// arrows sitting on kx=0, repeated only across ky=0
const quiverOnKy = [[-.074,.937,.083,.937],[-.074,.701,.083,.701],[-.074,.469,.083,.469],[-.074,.236,.083,.236],[.017,1.109,-.018,1.223],[.083,1.39,-.06,1.39]];
// arrows sitting on ky=0, repeated only across kx=0
const quiverOnKx = [[.401,.075,.401,-.075],[.803,.07,.803,-.07],[1.2,-.012,1.2,.02]];

const margin = { left: 166.7, right: 897.7 };
const svg = d3.select("#fig");
const defs = svg.append("defs");

defs.append("filter").attr("id", "soft").attr("x", "-10%").attr("y", "-10%").attr("width", "120%").attr("height", "120%")
  .append("feGaussianBlur").attr("stdDeviation", 1.5);

const bwr = d3.scaleLinear().domain([-0.5, 0, 0.5]).range(["#0000ff", "#ffffff", "#ff0000"]);
const magColor = d3.scaleSequential(d3.interpolateViridis).domain([0, 0.5]);

function styleAxis(g, size) {
  g.select(".domain").remove();
  g.selectAll(".tick line").attr("stroke", "#222").attr("stroke-width", 1.4);
  g.selectAll(".tick text").attr("font-family", "Liberation Serif").style("font-size", size + "px").attr("fill", "#111");
}

// small helper for labels with italics and subscripts
function mathText(x, y, size, rotate, parts) {
  const t = svg.append("text")
    .attr("transform", `translate(${x},${y})${rotate ? " rotate(-90)" : ""}`)
    .attr("text-anchor", "middle")
    .style("font-size", size + "px");
  let shift = 0;
  parts.forEach(p => {
    const sz = p.sub ? size * 0.68 : size;
    const want = p.sub ? size * 0.2 : 0;
    t.append("tspan")
      .attr("dy", want - shift)
      .style("font-size", sz + "px")
      .style("font-style", p.i ? "italic" : "normal")
      .style("font-weight", p.b ? "bold" : "normal")
      .text(p.t);
    shift = want;
  });
}

function colorbar(id, x0, x1, y0, y1, domain, ticks, colorFn) {
  const grad = defs.append("linearGradient").attr("id", id).attr("x1", 0).attr("x2", 0).attr("y1", 1).attr("y2", 0);
  d3.range(0, 1.0001, 0.05).forEach(f => {
    grad.append("stop").attr("offset", f).attr("stop-color", colorFn(domain[0] + f * (domain[1] - domain[0])));
  });
  svg.append("rect").attr("x", x0).attr("y", y0).attr("width", x1 - x0).attr("height", y1 - y0)
    .attr("fill", `url(#${id})`).attr("stroke", "#222").attr("stroke-width", 1.2);
  const s = d3.scaleLinear().domain(domain).range([y1, y0]);
  const g = svg.append("g").attr("transform", `translate(${x1},0)`)
    .call(d3.axisRight(s).tickValues(ticks).tickFormat(d3.format(".1f")).tickSize(6).tickPadding(5));
  styleAxis(g, 23);
}

function bandPanel(name, top, weights, letter) {
  const bottom = top + 661.5;
  const x = d3.scaleLinear().domain([0, 100]).range([margin.left, margin.right]);
  const y = d3.scaleLinear().domain([-5, 5]).range([bottom, top]);
  const line = d3.line().x(d => x(d[0])).y(d => y(d[1])).curve(d3.curveMonotoneX);

  defs.append("clipPath").attr("id", "clip" + name).append("rect")
    .attr("x", margin.left).attr("y", top).attr("width", margin.right - margin.left).attr("height", bottom - top);

  const plot = svg.append("g").attr("clip-path", `url(#clip${name})`);

  // coloured underlay: cut each curve into short pieces so colour and width can follow Ly
  const under = plot.append("g").attr("filter", "url(#soft)").attr("stroke-linecap", "round").attr("fill", "none");
  weights.forEach(pts => {
    const ref = under.append("path").attr("d", line(pts)).attr("stroke", "none");
    const len = ref.node().getTotalLength();
    const toLy = d3.scaleLinear().domain(pts.map(d => x(d[0]))).range(pts.map(d => d[2]));
    const steps = Math.max(2, Math.round(len / 3));
    for (let i = 0; i < steps; i++) {
      const a = ref.node().getPointAtLength(len * i / steps);
      const b = ref.node().getPointAtLength(len * (i + 1) / steps);
      const ly = toLy((a.x + b.x) / 2);
      under.append("line").attr("x1", a.x).attr("y1", a.y).attr("x2", b.x).attr("y2", b.y)
        .attr("stroke", bwr(ly)).attr("stroke-width", 5 + Math.abs(ly) * 12);
    }
    ref.remove();
  });

  const grey = plot.append("g").attr("fill", "none").attr("stroke", "#8a8a8a").attr("stroke-width", 1.35).attr("stroke-opacity", 0.9);
  upperBands.forEach(b => grey.append("path").attr("d", line(b)));
  denseBands.forEach(row => grey.append("path").attr("d", line(row.map((e, i) => [kGrid[i], e]))));

  pathTicks.slice(1, 3).forEach(k => {
    svg.append("line").attr("x1", x(k)).attr("x2", x(k)).attr("y1", top).attr("y2", bottom)
      .attr("stroke", "#000").attr("stroke-width", 1.3);
  });

  svg.append("rect").attr("x", margin.left).attr("y", top).attr("width", margin.right - margin.left).attr("height", bottom - top)
    .attr("fill", "none").attr("stroke", "#333").attr("stroke-width", 1.5);

  const ya = svg.append("g").attr("transform", `translate(${margin.left},0)`)
    .call(d3.axisLeft(y).tickValues(energyTicks).tickFormat(d3.format("d")).tickSize(7).tickPadding(6));
  styleAxis(ya, 27);

  const xa = svg.append("g").attr("transform", `translate(0,${bottom})`)
    .call(d3.axisBottom(x).tickValues(pathTicks).tickFormat((d, i) => pathLabels[i]).tickSize(0).tickPadding(15));
  styleAxis(xa, 31);

  mathText(104, top + 331, 40, true, [
    { t: "E", i: 1 }, { t: "n", i: 1, sub: 1 }, { t: "k", b: 1, sub: 1 },
    { t: " − " }, { t: "E", i: 1 }, { t: "F", sub: 1 }, { t: " [eV]" }
  ]);

  colorbar("bwr" + name, 945, 979, top, bottom, [-0.5, 0.5], colorTicks, bwr);
  mathText(1072, top + 331, 35, true, [
    { t: "⟨" }, { t: "L", i: 1, b: 1 }, { t: "y", i: 1, sub: 1 }, { t: "⟩" },
    { t: "n", i: 1, sub: 1 }, { t: "k", b: 1, sub: 1 }, { t: " [" }, { t: "ħ", i: 1 }, { t: "]" }
  ]);

  svg.append("text").attr("x", 62).attr("y", top + 6)
    .style("font-family", "Liberation Sans").style("font-size", "42px").text(letter);
}

bandPanel("A", 75.5, weightA, "(a)");
bandPanel("B", 860, weightB, "(b)");

// panel (c)
function fsPanel() {
  const left = 169, right = 919.3, top = 1644, bottom = 2296;
  const x = d3.scaleLinear().domain([-1.6, 1.6]).range([left, right]);
  const y = d3.scaleLinear().domain([-1.4, 1.4]).range([bottom, top]);

  const w = Math.round(right - left), h = Math.round(bottom - top);
  const cv = document.createElement("canvas");
  cv.width = w; cv.height = h;
  const ctx = cv.getContext("2d", { willReadFrequently: true });
  ctx.fillStyle = "#000";
  ctx.fillRect(0, 0, w, h);
  ctx.globalCompositeOperation = "lighter";
  const px = v => x(v) - left, py = v => y(v) - top;
  const curve = d3.line().x(d => d[0]).y(d => d[1]).curve(d3.curveCatmullRom).context(ctx);
  const shade = v => { const g = Math.round(255 * Math.min(1, v)); return `rgb(${g},${g},${g})`; };

  [[1, 1], [-1, 1], [1, -1], [-1, -1]].forEach(([sx, sy]) => {
    fsLines.forEach(([level, width, pts]) => {
      ctx.filter = width > 25 ? "blur(9px)" : width > 10 ? "blur(3px)" : "blur(2px)";
      ctx.strokeStyle = shade(level);
      ctx.lineWidth = width;
      ctx.lineCap = "butt";
      ctx.beginPath();
      curve(pts.map(p => [px(sx * p[0]), py(sy * p[1])]));
      ctx.stroke();
    });
    ctx.filter = "blur(4px)";
    fsKnots.forEach(([kx, ky, r]) => {
      ctx.fillStyle = shade(0.8);
      ctx.beginPath();
      ctx.arc(px(sx * kx), py(sy * ky), r * 0.8, 0, 2 * Math.PI);
      ctx.fill();
    });
    ctx.filter = "blur(11px)";
    fsGlows.forEach(([kx, ky, r]) => {
      ctx.fillStyle = shade(0.2);
      ctx.beginPath();
      ctx.arc(px(sx * kx), py(sy * ky), r, 0, 2 * Math.PI);
      ctx.fill();
    });
  });
  ctx.filter = "none";
  ctx.globalCompositeOperation = "source-over";

  const img = ctx.getImageData(0, 0, w, h);
  const lut = d3.range(256).map(i => d3.rgb(magColor(i / 255 * 0.5)));
  for (let i = 0; i < img.data.length; i += 4) {
    const c = lut[img.data[i]];
    img.data[i] = c.r; img.data[i + 1] = c.g; img.data[i + 2] = c.b; img.data[i + 3] = 255;
  }
  ctx.putImageData(img, 0, 0);

  svg.append("image").attr("x", left).attr("y", top).attr("width", w).attr("height", h)
    .attr("href", cv.toDataURL("image/png"));

  defs.append("clipPath").attr("id", "clipC").append("rect")
    .attr("x", left).attr("y", top).attr("width", right - left).attr("height", bottom - top);
  const plot = svg.append("g").attr("clip-path", "url(#clipC)");

  // quiver: the field is mirrored, reflection in kx keeps u and flips v, reflection in ky flips u and keeps v
  const arrows = [];
  const addMirrored = (a, flips) => {
    const cx = (a[0] + a[2]) / 2, cy = (a[1] + a[3]) / 2, dx = (a[2] - a[0]) / 2, dy = (a[3] - a[1]) / 2;
    flips.forEach(([fx, fy]) => {
      const ux = fy < 0 ? -dx : dx, uy = fx < 0 ? -dy : dy;
      const ox = fx * cx, oy = fy * cy;
      arrows.push([ox - ux, oy - uy, ox + ux, oy + uy]);
    });
  };
  quiverQuadrant.forEach(a => addMirrored(a, [[1, 1], [-1, 1], [1, -1], [-1, -1]]));
  quiverOnKy.forEach(a => addMirrored(a, [[1, 1], [1, -1]]));
  quiverOnKx.forEach(a => addMirrored(a, [[1, 1], [-1, 1]]));

  const arrowPath = a => {
    const x0 = x(a[0]), y0 = y(a[1]), x1 = x(a[2]), y1 = y(a[3]);
    const len = Math.hypot(x1 - x0, y1 - y0);
    const ux = (x1 - x0) / len, uy = (y1 - y0) / len, nx = -uy, ny = ux;
    const headL = Math.min(17, len), headW = headL < 17 ? len * 0.45 : 8, sh = 2.3;
    const p = d3.path();
    const bx = x1 - ux * headL, by = y1 - uy * headL;
    if (len > 17) {
      p.moveTo(x0 + nx * sh, y0 + ny * sh);
      p.lineTo(bx + nx * sh, by + ny * sh);
      p.lineTo(bx - ux * 4 + nx * headW, by - uy * 4 + ny * headW);
      p.lineTo(x1, y1);
      p.lineTo(bx - ux * 4 - nx * headW, by - uy * 4 - ny * headW);
      p.lineTo(bx - nx * sh, by - ny * sh);
      p.lineTo(x0 - nx * sh, y0 - ny * sh);
    } else {
      p.moveTo(x1, y1);
      p.lineTo(x0 + nx * headW, y0 + ny * headW);
      p.lineTo(x0 - nx * headW, y0 - ny * headW);
    }
    p.closePath();
    return p.toString();
  };
  plot.append("g").attr("fill", "#fff").selectAll("path").data(arrows).join("path").attr("d", arrowPath);
  plot.append("circle").attr("cx", x(0)).attr("cy", y(0)).attr("r", 1.8).attr("fill", "#fff");

  plot.append("path").attr("fill", "none").attr("stroke", "#b9a400").attr("stroke-width", 1.3)
    .attr("d", d3.line().x(d => x(d[0])).y(d => y(d[1]))(zoneCorners));

  svg.append("rect").attr("x", left).attr("y", top).attr("width", right - left).attr("height", bottom - top)
    .attr("fill", "none").attr("stroke", "#333").attr("stroke-width", 1.5);

  const ya = svg.append("g").attr("transform", `translate(${left},0)`)
    .call(d3.axisLeft(y).tickValues(kyTicks).tickFormat(d3.format(".1f")).tickSize(7).tickPadding(6));
  styleAxis(ya, 24);
  const xa = svg.append("g").attr("transform", `translate(0,${bottom})`)
    .call(d3.axisBottom(x).tickValues(kxTicks).tickFormat(d3.format(".1f")).tickSize(7).tickPadding(6));
  styleAxis(xa, 24);

  mathText(544, 2368, 40, false, [
    { t: "k", i: 1 }, { t: "x", i: 1, sub: 1 }, { t: " [" }, { t: "π", i: 1 }, { t: "/" }, { t: "a", i: 1 }, { t: "]" }
  ]);
  mathText(90, 1970, 40, true, [
    { t: "k", i: 1 }, { t: "y", i: 1, sub: 1 }, { t: " [" }, { t: "π", i: 1 }, { t: "/" }, { t: "a", i: 1 }, { t: "]" }
  ]);

  colorbar("vir", 972.5, 1006, top, bottom, [0, 0.5], magTicks, magColor);
  mathText(1084, 1970, 37, true, [
    { t: "|" }, { t: "L", b: 1 }, { t: "FS", sub: 1 }, { t: "(" }, { t: "k", b: 1 }, { t: ")| [" }, { t: "ħ", i: 1 }, { t: "]" }
  ]);

  svg.append("text").attr("x", 62).attr("y", top + 6)
    .style("font-family", "Liberation Sans").style("font-size", "42px").text("(c)");
}
fsPanel();
</script>
</body>
</html>
